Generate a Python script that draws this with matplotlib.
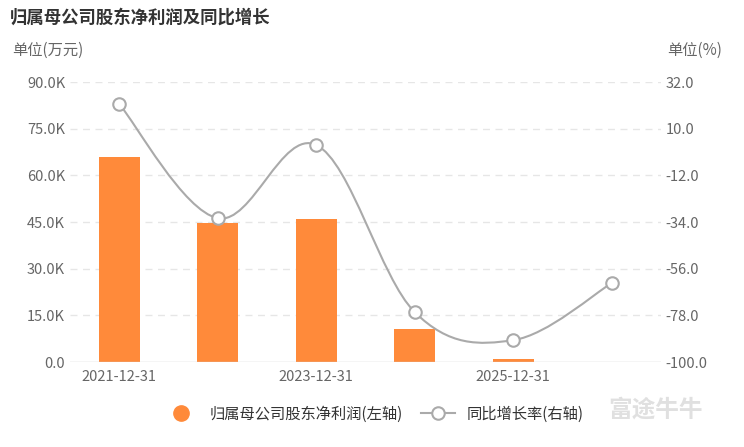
import numpy as np
import matplotlib
matplotlib.use("Agg")
import matplotlib.pyplot as plt
from matplotlib.path import Path
from matplotlib.patches import PathPatch
from matplotlib.lines import Line2D

plt.rcParams['font.family'] = ['Noto Sans CJK SC', 'DejaVu Sans']

years = ["2021-12-31", "2022-12-31", "2023-12-31", "2024-12-31", "2025-12-31", "2026-12-31"]
profit = [65.9, 44.7, 46.0, 10.6, 0.9, None]   # K 万元
growth = [21.6, -32.2, 2.3, -76.5, -89.7, -62.8]  # %

W, H = 744, 447
fig = plt.figure(figsize=(W / 100, H / 100), dpi=100)
ax = fig.add_axes([70 / W, 1 - 362 / H, (661 - 70) / W, (362 - 82) / H])
ax2 = ax.twinx()

x = np.arange(len(years))
bx = [i for i, v in enumerate(profit) if v is not None]
bv = [v for v in profit if v is not None]
ax.bar(bx, bv, width=0.42, color="#FF8A3A", zorder=2)
ax.set_xlim(-0.5, len(years) - 0.5)
ax.set_ylim(0, 90)
ax.set_yticks(np.arange(0, 91, 15))
ax.set_yticklabels(["0.0", "15.0K", "30.0K", "45.0K", "60.0K", "75.0K", "90.0K"])
ax.set_xticks(x[::2])
ax.set_xticklabels(years[::2])
for y in np.arange(15, 91, 15):
    ax.axhline(y, color="#E6E6E6", lw=1, ls=(0, (5, 4)), zorder=0)
ax.axhline(0, color="#CCCCCC", lw=1, zorder=3)

ax2.set_ylim(-100, 32)
ax2.set_yticks(np.arange(-100, 33, 22))
ax2.set_yticklabels([f"{v:.1f}" for v in np.arange(-100, 33, 22)])

for a in (ax, ax2):
    for s in a.spines.values():
        s.set_visible(False)
    a.tick_params(length=0, labelsize=10.5, colors="#666666")
ax.tick_params(axis="x", pad=6)

# smooth line through points (echarts-like bezier)
pts = np.column_stack([x, growth]).astype(float)
verts = [tuple(pts[0])]
codes = [Path.MOVETO]
s = 0.35
for i in range(len(pts) - 1):
    p0 = pts[max(i - 1, 0)]
    p1 = pts[i]
    p2 = pts[i + 1]
    p3 = pts[min(i + 2, len(pts) - 1)]
    c1 = p1 + (p2 - p0) * s / 2
    c2 = p2 - (p3 - p1) * s / 2
    verts += [tuple(c1), tuple(c2), tuple(p2)]
    codes += [Path.CURVE4] * 3
ax2.add_patch(PathPatch(Path(verts, codes), fill=False, ec="#AAAAAA", lw=1.5, zorder=4))
ax2.plot(x, growth, ls="none", marker="o", ms=9, mfc="white", mec="#AAAAAA", mew=1.5, zorder=5)

fig.text(10 / W, 1 - 18 / H, "归属母公司股东净利润及同比增长", fontsize=12.5, weight="bold",
         color="#333333", va="center")
fig.text(12 / W, 1 - 50 / H, "单位(万元)", fontsize=11, color="#666666", va="center")
fig.text(722 / W, 1 - 50 / H, "单位(%)", fontsize=11, color="#666666", va="center", ha="right")

handles = [Line2D([], [], ls="none", marker="o", ms=11, mfc="#FF8A3A", mec="#FF8A3A"),
           Line2D([], [], color="#AAAAAA", lw=1.5, marker="o", ms=9, mfc="white", mec="#AAAAAA", mew=1.5)]
fig.legend(handles, ["归属母公司股东净利润(左轴)", "同比增长率(右轴)"], loc="center",
           bbox_to_anchor=(374 / W, 1 - 414 / H), ncol=2, frameon=False, fontsize=11,
           handlelength=2.2, columnspacing=1.2, labelcolor="#333333")
fig.text(608 / W, 1 - 410 / H, "富途牛牛", fontsize=17, color="#E0E0E0", va="center", weight="bold")

fig.savefig("out.png", dpi=100)
